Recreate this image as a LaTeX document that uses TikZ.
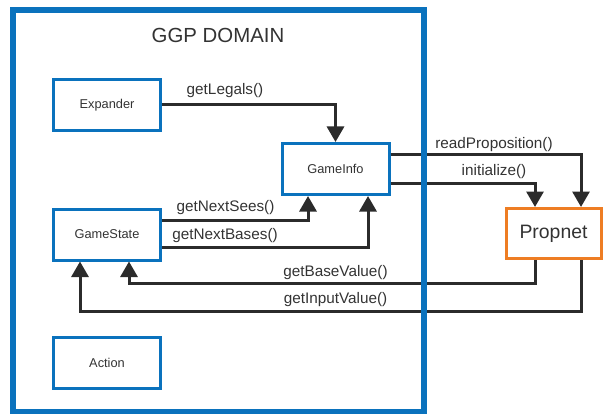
\documentclass[tikz,border=0pt]{standalone}
\usepackage{fontspec}
\setmainfont{Liberation Sans}
\setsansfont{Liberation Sans}
\usetikzlibrary{arrows.meta}
\definecolor{frameblue}{HTML}{0A72BD}
\definecolor{proporange}{HTML}{EE7D23}
\definecolor{linegray}{HTML}{2B2B2B}
\definecolor{txtgray}{HTML}{333333}
\tikzset{
  classbox/.style={draw=frameblue, line width=3pt, fill=white, minimum width=107pt, minimum height=51pt, inner sep=0pt, text=txtgray, font=\fontsize{12.8}{15}\selectfont},
  propbox/.style={draw=proporange, line width=3pt, fill=white, minimum width=95pt, minimum height=50pt, inner sep=0pt, text=txtgray, font=\fontsize{19.4}{22}\selectfont},
  arr/.style={draw=linegray, line width=3pt, -{Triangle[width=17pt,length=15.5pt]}},
  lbl/.style={text=txtgray, inner sep=0pt, font=\fontsize{15.3}{18}\selectfont},
  titlelbl/.style={text=txtgray, inner sep=0pt, font=\fontsize{20.4}{24}\selectfont}
}
\begin{document}
\begin{tikzpicture}[x=1pt,y=-1pt]
\useasboundingbox (0,0) rectangle (604,414);
\node[titlelbl] (title) at (218,35) {GGP DOMAIN};
\node[classbox] (exp) at (107,105) {Expander};
\node[classbox] (gi) at (335.5,169) {GameInfo};
\node[classbox] (gs) at (107,234.5) {GameState};
\node[classbox] (act) at (107,363) {Action};
\node[propbox] (pn) at (553.5,233.5) {Propnet};
% connectors
\draw[arr] (exp.east) -| (gi.north);
\draw[arr] ([yshift=14.5pt]gs.east) -| ([xshift=-27.5pt]gi.south);
\draw[arr] ([yshift=-12.5pt]gs.east) -| ([xshift=32.5pt]gi.south);
\draw[arr] ([yshift=14pt]gi.east) -| ([xshift=27.5pt]pn.north);
\draw[arr] ([yshift=-14pt]gi.east) -| ([xshift=-18.5pt]pn.north);
\draw[arr] ([xshift=-18.5pt]pn.south) -- ++(0,23) -| ([xshift=22pt]gs.south);
\draw[arr] ([xshift=27.5pt]pn.south) -- ++(0,51) -| ([xshift=-27pt]gs.south);
% labels
\node[lbl] (l1) at (225,91) {getLegals()};
\node[lbl] (l2) at (225.5,208) {getNextSees()};
\node[lbl] (l3) at (225,236) {getNextBases()};
\node[lbl] (l4) at (494,145) {readProposition()};
\node[lbl] (l5) at (494,172) {initialize()};
\node[lbl] (l6) at (335.5,273) {getBaseValue()};
\node[lbl] (l7) at (335.5,300) {getInputValue()};
% domain frame
\draw[draw=frameblue, line width=5.5pt] (13,10) rectangle (424,412);
\end{tikzpicture}
\end{document}
